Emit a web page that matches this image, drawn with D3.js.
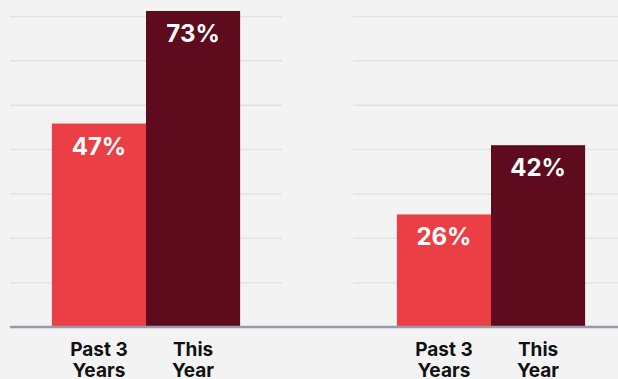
<!DOCTYPE html>
<html>
<head>
<meta charset="utf-8">
<script src="https://cdn.jsdelivr.net/npm/d3@7"></script>
<style>
  html, body { margin: 0; padding: 0; background: #f3f3f3; }
  svg { display: block; }
  text { font-family: Inter, "Open Sans", sans-serif; font-weight: 700; }
</style>
</head>
<body>
<svg id="chart" width="618" height="379"></svg>
<script>
// Periods compared in each panel
const categories = ["Past 3 Years", "This Year"];
const categoryLines = [["Past 3", "Years"], ["This", "Year"]];
// Share (%) for each panel
const panelA = [47, 73];
const panelB = [26, 42];
// Gridline values (%)
const gridValues = [10.25, 20.5, 30.75, 41, 51.25, 61.5, 71.75];
const colors = ["#ec3f45", "#5e0b1e"];

const W = 618, H = 379;
const zeroY = 327, topY = 11;
const panelW = 272;
const panelX = [10, 355];

const svg = d3.select("#chart");
svg.append("rect").attr("width", W).attr("height", H).attr("fill", "#f3f3f3");

const y = d3.scaleLinear().domain([0, 73]).range([zeroY, topY]);
const x = d3.scaleBand().domain(categories).range([0, panelW])
  .paddingInner(0).paddingOuter(0.445);

[panelA, panelB].forEach((vals, p) => {
  const g = svg.append("g").attr("transform", `translate(${panelX[p]},0)`);

  // horizontal gridlines
  g.append("g").selectAll("line").data(gridValues).join("line")
    .attr("x1", p ? -2 : 0).attr("x2", panelW)
    .attr("y1", d => y(d)).attr("y2", d => y(d))
    .attr("stroke", "#e2e2e2").attr("stroke-width", 1.5);

  const data = categories.map((c, i) => ({ c, v: vals[i], i }));

  g.selectAll("rect.bar").data(data).join("rect")
    .attr("class", "bar")
    .attr("x", d => x(d.c)).attr("width", x.bandwidth())
    .attr("y", d => y(d.v)).attr("height", d => y(0) - y(d.v))
    .attr("fill", d => colors[d.i]);

  // value labels inside the bar tops
  g.selectAll("text.val").data(data).join("text")
    .attr("class", "val")
    .attr("x", d => x(d.c) + x.bandwidth() / 2)
    .attr("y", d => y(d.v) + 31)
    .attr("text-anchor", "middle")
    .attr("font-size", 24)
    .attr("font-weight", 800)
    .attr("fill", "#fff")
    .text(d => d.v + "%");

  // two-line category labels
  const lab = g.selectAll("text.cat").data(data).join("text")
    .attr("class", "cat")
    .attr("text-anchor", "middle")
    .attr("font-size", 19)
    .attr("fill", "#111");
  lab.selectAll("tspan").data(d => categoryLines[d.i].map(t => ({ t, cx: x(d.c) + x.bandwidth() / 2 })))
    .join("tspan")
    .attr("x", d => d.cx)
    .attr("y", (d, j) => 356 + j * 21)
    .text(d => d.t);
});

// shared baseline
svg.append("line")
  .attr("x1", 10).attr("x2", W)
  .attr("y1", zeroY).attr("y2", zeroY)
  .attr("stroke", "#9b9aa8").attr("stroke-width", 2.5);
</script>
</body>
</html>
